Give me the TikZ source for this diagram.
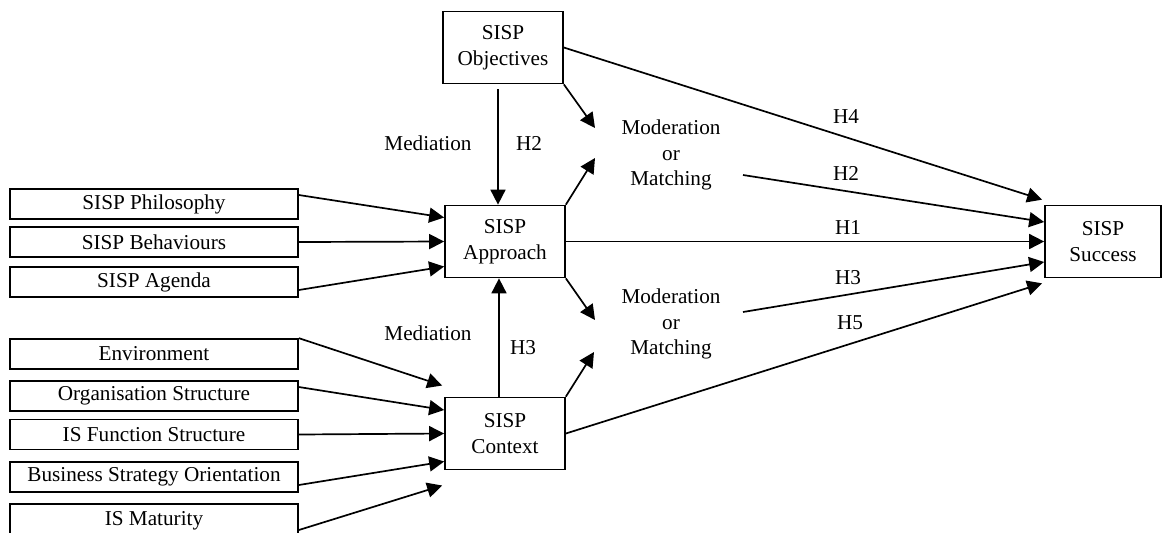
\documentclass[tikz,border=0pt]{standalone}
\usepackage{fontspec}
\setmainfont{Liberation Serif}
\usetikzlibrary{arrows.meta,calc}

\begin{document}
\begin{tikzpicture}[x=0.5pt, y=-0.5pt, font=\fontsize{10.6}{12.75}\selectfont, line width=0.85pt, >={Triangle[length=7.5pt,width=7.5pt]}]
  \tikzset{
    factorbox/.style={draw, minimum width=144pt, minimum height=15pt, inner sep=0pt},
    corebox/.style  ={draw, minimum width=60pt, minimum height=36pt, inner sep=0pt, align=center},
    modtxt/.style   ={align=center, inner sep=0pt},
  }
  \useasboundingbox (0,0) rectangle (1163,532);
  \node[corebox] (obj)  at (503,47.5)   {SISP\\Objectives};
  \node[corebox] (appr) at (505,241.5)  {SISP\\Approach};
  \node[corebox] (ctx)  at (505,433.5)  {SISP\\Context};
  \node[corebox, minimum width=58pt] (succ) at (1103,241.5) {SISP\\Success};
  \node[factorbox] (phil)   at (154,204)   {SISP Philosophy};
  \node[factorbox] (behav)  at (154,242)   {SISP Behaviours};
  \node[factorbox] (agenda) at (154,282)   {SISP Agenda};
  \node[factorbox] (env)    at (154,354)   {Environment};
  \node[factorbox] (org)    at (154,396)   {Organisation Structure};
  \node[factorbox] (isf)    at (154,434.5) {IS Function Structure};
  \node[factorbox] (bus)    at (154,477)   {Business Strategy Orientation};
  \node[factorbox, minimum height=17pt] (mat) at (154,521) {IS Maturity};
  \node[modtxt] (modA) at (671,155) {Moderation\\or\\Matching};
  \node[modtxt] (modB) at (671,324) {Moderation\\or\\Matching};
  \node (medA) at (428,143) {Mediation};
  \node (medB) at (428,333) {Mediation};
  \node (hObj) at (529,143) {H2};
  \node (hCtx) at (523,348) {H3};
  \node (h4) at (846,117) {H4};
  \node (h2) at (846,173) {H2};
  \node (h1) at (848,227) {H1};
  \node (h3) at (848,278) {H3};
  \node (h5) at (850,323) {H5};
  \draw[->] ([yshift=4.5pt]phil.east) -- ([yshift=12pt]appr.west);
  \draw[->] (behav.east) -- (appr.west);
  \draw[->] ([yshift=-4pt]agenda.east) -- ([yshift=-12.5pt]appr.west);
  \draw[->] (env.north east) -- ($(ctx.west)+(-2,-48)$);
  \draw[->] ([yshift=4.5pt]org.east) -- ([yshift=11.75pt]ctx.west);
  \draw[->] (isf.east) -- (ctx.west);
  \draw[->] ([yshift=-4pt]bus.east) -- ([yshift=-14pt]ctx.west);
  \draw[->] ([yshift=-4.5pt]mat.east) -- ($(ctx.west)+(-2,52)$);
  \draw[->, shorten <=2.5pt] ([xshift=-2.5pt]obj.south) -- ([xshift=-3.5pt]appr.north);
  \draw[->] ([xshift=-3pt]ctx.north) -- ([xshift=-3pt]appr.south);
  \draw[->] (obj.south east) -- ($(modA)+(-76,-27)$);
  \draw[->] (appr.north east) -- ($(modA)+(-76,3)$);
  \draw[->] (appr.south east) -- ($(modB)+(-76,-4)$);
  \draw[->] (ctx.north east) -- ($(modB)+(-77,28)$);
  \draw[->] (obj.east) -- ([shift={(-1pt,2.5pt)}]succ.north west);
  \draw[->] ($(modA)+(72,20)$) -- ([yshift=9.75pt]succ.west);
  \draw[->] (appr.east) -- (succ.west);
  \draw[->] ($(modB)+(72,-12)$) -- ([yshift=-10.25pt]succ.west);
  \draw[->] (ctx.east) -- ([shift={(-1pt,-2.5pt)}]succ.south west);
\end{tikzpicture}
\end{document}
